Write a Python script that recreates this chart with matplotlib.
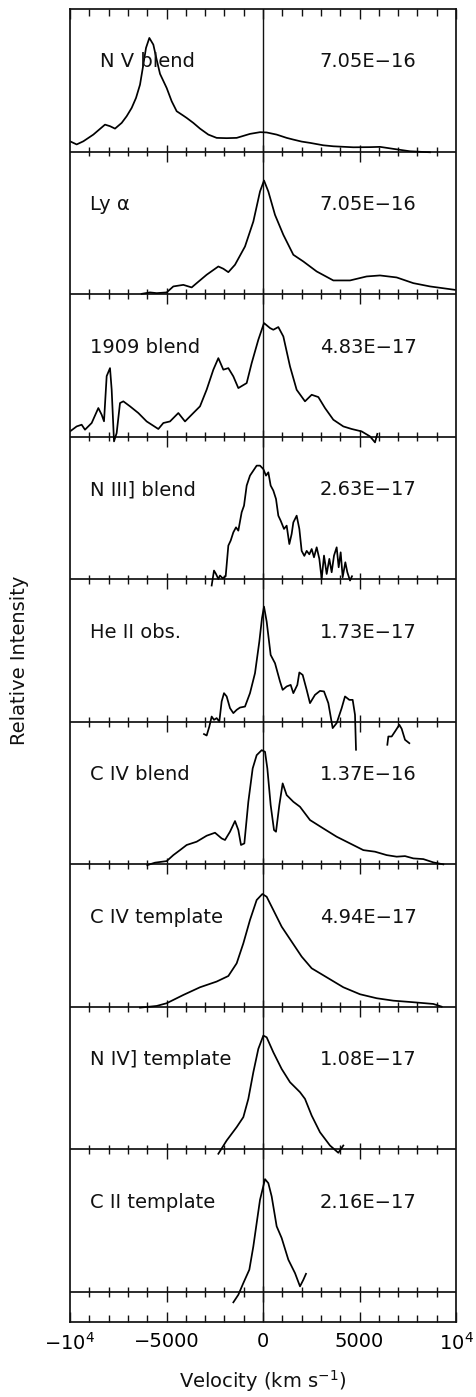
import numpy as np
import matplotlib
matplotlib.use("Agg")
import matplotlib.pyplot as plt
from matplotlib.ticker import FixedLocator

plt.rcParams['font.family'] = ['DejaVu Sans']
plt.rcParams['mathtext.fontset'] = 'dejavusans'

# ---------------- data (velocity km/s, relative intensity) ----------------
labels = ["N V blend", "Ly α", "1909 blend", "N III] blend", "He II obs.",
          "C IV blend", "C IV template", "N IV] template", "C II template"]
fluxes = ["7.05E−16", "7.05E−16", "4.83E−17", "2.63E−17", "1.73E−17",
          "1.37E−16", "4.94E−17", "1.08E−17", "2.16E−17"]

nv_v = [-10000, -9655, -9309, -8791, -8187, -7927, -7668, -7323, -7064, -6805, -6580,
        -6373, -6200, -6062, -5889, -5682, -5509, -5336, -4991, -4732, -4473, -4128,
        -3955, -3610, -3264, -2833, -2401, -1883, -1364, -1019, -674, -155, 190, 708,
        1226, 1572, 2003, 2435, 3126, 3644, 4680, 5544, 6062, 6753, 7617, 8653]
nv_f = [0.072, 0.050, 0.072, 0.119, 0.189, 0.178, 0.161, 0.201, 0.248, 0.306, 0.376,
        0.469, 0.610, 0.727, 0.797, 0.750, 0.645, 0.545, 0.446, 0.353, 0.283, 0.252,
        0.236, 0.201, 0.161, 0.119, 0.096, 0.094, 0.096, 0.110, 0.124, 0.136, 0.134,
        0.119, 0.096, 0.084, 0.070, 0.061, 0.044, 0.037, 0.030, 0.031, 0.033, 0.019,
        0.002, -0.005]

lya_v = [-6287, -5855, -5509, -4991, -4646, -4128, -3696, -3437, -2919, -2314, -2055,
         -1796, -1451, -933, -501, -155, 52, 276, 622, 1054, 1572, 2090, 2781, 3644,
         4508, 5371, 6062, 6926, 7789, 8653, 9948]
lya_f = [0.002, 0.012, 0.007, 0.012, 0.054, 0.065, 0.047, 0.077, 0.136, 0.194, 0.178,
         0.154, 0.206, 0.334, 0.509, 0.720, 0.797, 0.720, 0.556, 0.416, 0.276, 0.229,
         0.159, 0.096, 0.096, 0.124, 0.131, 0.117, 0.077, 0.054, 0.030]

b1909_v = [-10000, -9655, -9396, -9223, -8877, -8532, -8359, -8238, -8100, -7927, -7841,
           -7720, -7582, -7409, -7237, -6891, -6459, -6028, -5423, -5164, -4819, -4387,
           -4041, -3610, -3264, -2919, -2573, -2314, -2055, -1796, -1537, -1278, -846,
           -587, -242, 52, 363, 535, 794, 1054, 1399, 1744, 2176, 2522, 2867, 3212, 3644,
           4162, 4594, 5112, 5544, 5803, 5924]
b1909_f = [0.037, 0.072, 0.084, 0.049, 0.096, 0.201, 0.154, 0.108, 0.425, 0.481, 0.330,
           -0.033, 0.026, 0.236, 0.248, 0.213, 0.166, 0.107, 0.054, 0.096, 0.107, 0.166,
           0.107, 0.166, 0.213, 0.330, 0.470, 0.551, 0.470, 0.481, 0.423, 0.341, 0.376,
           0.516, 0.680, 0.797, 0.762, 0.750, 0.769, 0.703, 0.493, 0.329, 0.248, 0.294,
           0.278, 0.201, 0.119, 0.072, 0.054, 0.037, 0.002, -0.040, 0.020]

n3_v = [-2660, -2539, -2435, -2314, -2228, -2090, -1934, -1796, -1675, -1537, -1399,
        -1278, -1105, -984, -846, -674, -501, -328, -155, 17, 155, 276, 397, 535, 674,
        794, 915, 1088, 1226, 1364, 1485, 1572, 1744, 1883, 2003, 2142, 2263, 2401,
        2522, 2642, 2781, 2919, 3040, 3161, 3299, 3437, 3558, 3679, 3817, 3921, 4024,
        4128, 4266, 4370, 4508, 4611]
n3_f = [-0.044, 0.061, 0.037, 0.002, 0.026, 0.007, 0.021, 0.236, 0.271, 0.329, 0.364,
        0.341, 0.470, 0.516, 0.657, 0.727, 0.762, 0.797, 0.797, 0.773, 0.727, 0.750,
        0.657, 0.622, 0.563, 0.446, 0.411, 0.353, 0.376, 0.247, 0.318, 0.399, 0.446,
        0.353, 0.199, 0.164, 0.199, 0.175, 0.212, 0.154, 0.224, 0.143, 0.002, 0.166,
        0.037, 0.143, 0.049, 0.166, 0.224, 0.084, 0.189, 0.014, 0.119, 0.049, -0.009,
        0.021]

he2_v = [-3057, -2919, -2781, -2660, -2539, -2401, -2263, -2142, -2021, -1883, -1710,
         -1537, -1364, -1192, -933, -674, -415, -190, -52, 52, 190, 397, 622, 881, 1019,
         1226, 1434, 1572, 1779, 1883, 2055, 2263, 2435, 2694, 2953, 3161, 3385, 3610,
         3817, 4076, 4249, 4473, 4646, 4767, 4819]
he2_f = [-0.086, -0.096, -0.033, 0.037, 0.014, 0.026, 0.002, 0.143, 0.201, 0.178, 0.096,
         0.061, 0.084, 0.100, 0.107, 0.201, 0.341, 0.563, 0.727, 0.808, 0.703, 0.469,
         0.411, 0.283, 0.224, 0.248, 0.259, 0.201, 0.259, 0.346, 0.329, 0.224, 0.131,
         0.189, 0.217, 0.213, 0.131, -0.044, -0.009, 0.096, 0.178, 0.154, 0.154, 0.049,
         -0.196]
he2b_v = [6442, 6494, 6667, 6839, 7064, 7185, 7358, 7582]
he2b_f = [-0.161, -0.103, -0.103, -0.068, -0.021, -0.049, -0.126, -0.150]

c4b_v = [-5993, -5596, -4991, -4646, -4301, -3955, -3437, -2919, -2487, -2142, -1969,
         -1710, -1451, -1278, -1140, -967, -760, -535, -328, -69, 104, 225, 397, 570,
         674, 846, 1019, 1226, 1572, 1917, 2435, 3126, 3817, 4508, 5199, 5803, 6408,
         6926, 7358, 7789, 8307, 8826, 9344]
c4b_f = [-0.005, 0.012, 0.023, 0.065, 0.100, 0.136, 0.159, 0.201, 0.222, 0.182, 0.171,
         0.229, 0.304, 0.241, 0.136, 0.147, 0.439, 0.673, 0.766, 0.801, 0.790, 0.673,
         0.416, 0.241, 0.229, 0.416, 0.568, 0.486, 0.439, 0.404, 0.311, 0.252, 0.194,
         0.147, 0.100, 0.089, 0.065, 0.054, 0.058, 0.042, 0.037, 0.014, 0.000]

c4t_v = [-6373, -5509, -4991, -4128, -3264, -2401, -1796, -1364, -1019, -674, -328, -35,
         190, 535, 967, 1485, 2003, 2522, 3299, 4162, 5026, 5889, 6753, 7789, 8826, 9257]
c4t_f = [-0.005, 0.007, 0.026, 0.084, 0.138, 0.178, 0.217, 0.306, 0.446, 0.610, 0.750,
         0.792, 0.773, 0.680, 0.563, 0.458, 0.353, 0.271, 0.208, 0.138, 0.089, 0.061,
         0.044, 0.033, 0.021, 0.002]

n4t_v = [-2314, -1883, -1364, -1019, -760, -501, -242, 17, 190, 535, 967, 1399, 1917,
         2176, 2522, 2953, 3471, 3903, 4162]
n4t_f = [-0.030, 0.063, 0.157, 0.227, 0.355, 0.542, 0.706, 0.799, 0.787, 0.682, 0.565,
         0.472, 0.402, 0.355, 0.238, 0.121, 0.028, -0.023, 0.028]

c2t_v = [-1537, -1278, -1019, -708, -501, -328, -155, 104, 276, 449, 708, 967, 1313,
         1658, 1917, 2090, 2228]
c2t_f = [-0.072, -0.019, 0.063, 0.157, 0.320, 0.484, 0.647, 0.792, 0.764, 0.671, 0.461,
         0.379, 0.227, 0.133, 0.040, 0.086, 0.128]

# panels from top to bottom: list of segments
panels = [
    [(nv_v, nv_f)],
    [(lya_v, lya_f)],
    [(b1909_v, b1909_f)],
    [(n3_v, n3_f)],
    [(he2_v, he2_f), (he2b_v, he2b_f)],
    [(c4b_v, c4b_f)],
    [(c4t_v, c4t_f)],
    [(n4t_v, n4t_f)],
    [(c2t_v, c2t_f)],
]

xtick_vals = [-10000, -5000, 0, 5000, 10000]
xtick_labels = [r"$-10^4$", "−5000", "0", "5000", r"$10^4$"]

# ---------------- figure ----------------
W, H = 477, 1397
fig = plt.figure(figsize=(W / 100, H / 100), dpi=100)
ax = fig.add_axes([70 / W, 75 / H, 386 / W, 1313 / H])
npan = len(panels)
ax.set_xlim(-10000, 10000)
ax.set_ylim(-0.21, npan)

lc = "#111111"
lw = 1.25
for s in ax.spines.values():
    s.set_linewidth(lw)
    s.set_color(lc)

ax.axvline(0, color=lc, lw=1.0)

minor = [x for x in range(-9000, 10000, 1000) if x % 5000 != 0]
major = [-5000, 0, 5000]
for i, segs in enumerate(panels):
    off = npan - 1 - i
    ax.axhline(off, color=lc, lw=lw)
    ax.vlines(minor, off - 0.033, off + 0.033, color=lc, lw=1.0)
    ax.vlines(major, off - 0.07, off + 0.046, color=lc, lw=1.0)
    for v, f in segs:
        ax.plot(v, np.asarray(f) + off, color="black", lw=lw, solid_joinstyle="round")
    ax.text(-8950 if i else -8450, off + 0.59, labels[i], fontsize=14,
            ha="left", va="baseline", color="#111111")
    ax.text(7950, off + 0.59, fluxes[i], fontsize=14, ha="right",
            va="baseline", color="#111111")

ax.xaxis.set_major_locator(FixedLocator(xtick_vals))
ax.set_xticklabels(xtick_labels)
ax.xaxis.set_minor_locator(FixedLocator(minor))
ax.tick_params(axis="x", which="both", direction="in", top=True, bottom=True,
               color=lc, width=1.0, labelsize=14, pad=7)
ax.tick_params(axis="x", which="major", length=7.5)
ax.tick_params(axis="x", which="minor", length=4.8)
ax.set_yticks([])

fig.text(263 / W, 1 - 1381 / H, r"Velocity (km s$^{-1}$)", fontsize=14,
         ha="center", va="center", color="#111111")
fig.text(20 / W, 1 - 660 / H, "Relative Intensity", fontsize=14, rotation=90,
         ha="center", va="center", color="#111111")

fig.savefig("out.png", dpi=100)
